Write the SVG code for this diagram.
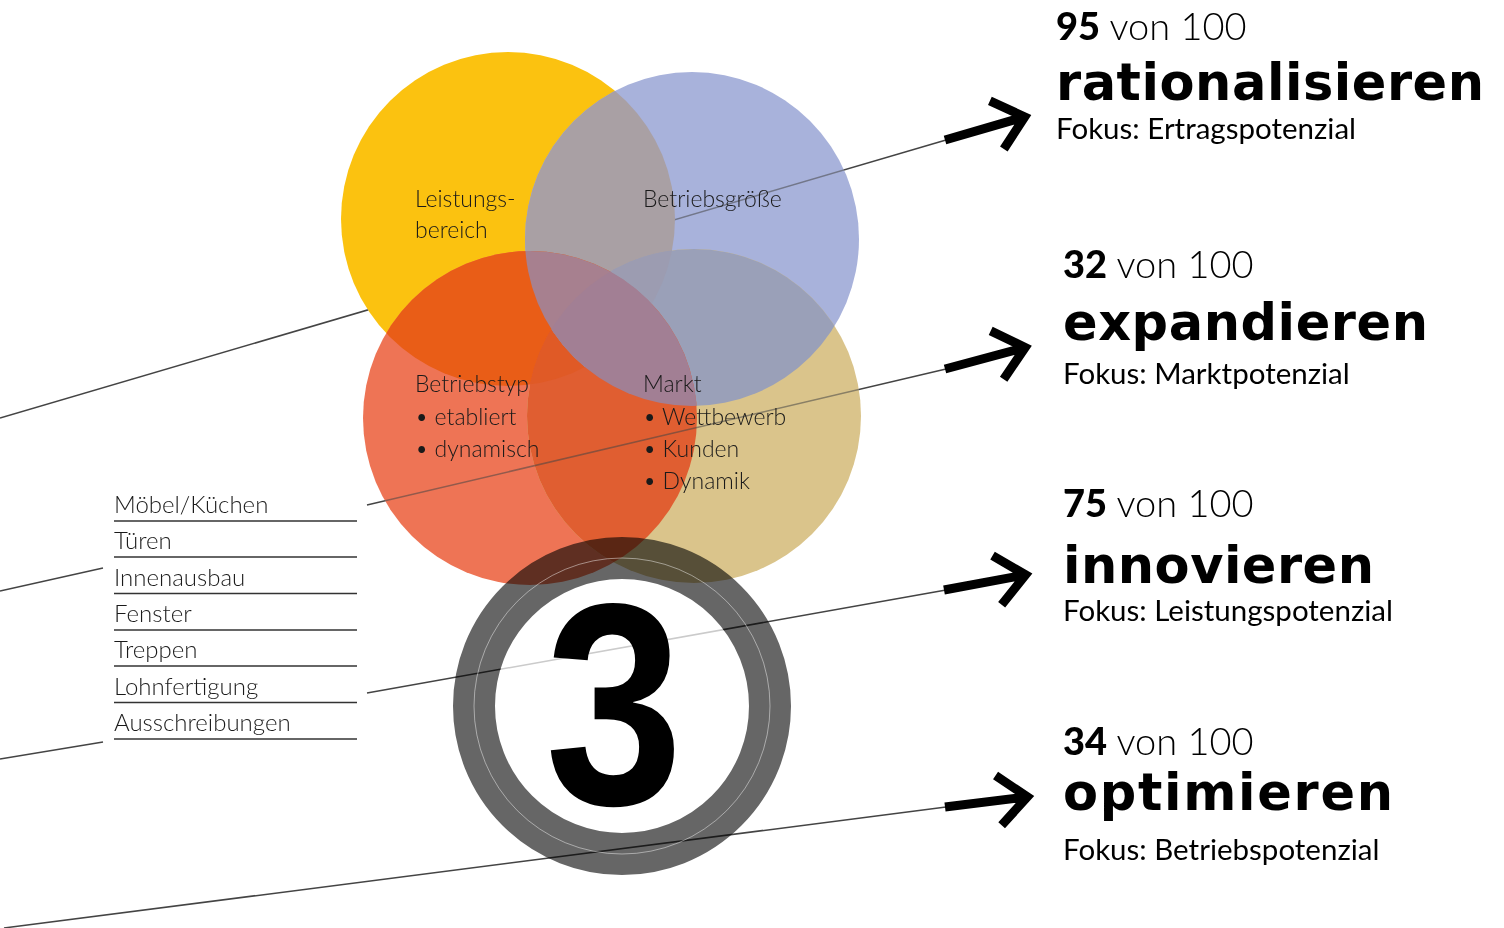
<svg xmlns="http://www.w3.org/2000/svg" width="1504" height="928" viewBox="0 0 1504 928">
<style>
.lbl{font-family:Lato,'Noto Sans',sans-serif;font-weight:300;font-size:24px;fill:#1a1a1a}
.vl{font-size:23px}
.num{font-family:Lato,'Noto Sans',sans-serif;font-size:38px;fill:#000}
.num .b{font-weight:900}
.num .l{font-weight:300}
.big{font-family:'DejaVu Sans',sans-serif;font-weight:700;font-size:51px;fill:#000}
.fok{font-family:Lato,'Noto Sans',sans-serif;font-weight:400;font-size:29.5px;fill:#000}
.ln{stroke:#444;stroke-width:1.5;fill:none}
.ul{stroke:#333;stroke-width:1.3}
.arr{stroke:#000;stroke-width:9;fill:none;stroke-linejoin:miter;stroke-miterlimit:10;stroke-linecap:butt}
</style>
<defs>
<clipPath id="cY"><circle cx="508" cy="219" r="167"/></clipPath>
<clipPath id="cB"><circle cx="692" cy="239" r="167"/></clipPath>
<clipPath id="cR"><circle cx="530" cy="418" r="167"/></clipPath>
<clipPath id="cT"><circle cx="694" cy="416" r="167"/></clipPath>
<mask id="lineMask" maskUnits="userSpaceOnUse" x="0" y="0" width="1504" height="928">
<rect x="0" y="0" width="1504" height="928" fill="#fff"/>
<circle cx="692" cy="239" r="167" fill="#8a8a8a"/>
<circle cx="530" cy="418" r="167" fill="#8a8a8a"/>
<circle cx="694" cy="416" r="167" fill="#8a8a8a"/>
<circle cx="508" cy="219" r="167" fill="#000"/>
</mask>
<path id="arrowShape" d="M0,0 H84 M54,-25 L83,0 L54,25"/>
</defs>
<rect width="1504" height="928" fill="#fff"/>

<g id="venn">
<g id="node-leistungsbereich"><circle cx="508" cy="219" r="167" fill="#FBC210"/></g>
<g id="node-betriebsgroesse"><circle cx="692" cy="239" r="167" fill="#A8B2DB"/></g>
<g id="node-betriebstyp"><circle cx="530" cy="418" r="167" fill="#EE7455"/></g>
<g id="node-markt"><circle cx="694" cy="416" r="167" fill="#DAC48B"/></g>
<g id="overlaps">
<g clip-path="url(#cY)"><circle cx="692" cy="239" r="167" fill="#A9A0A4"/></g>
<g clip-path="url(#cY)"><circle cx="530" cy="418" r="167" fill="#E95D17"/></g>
<g clip-path="url(#cB)"><circle cx="694" cy="416" r="167" fill="#9AA0B8"/></g>
<g clip-path="url(#cR)"><circle cx="694" cy="416" r="167" fill="#E05E31"/></g>
<g clip-path="url(#cY)"><g clip-path="url(#cR)"><circle cx="694" cy="416" r="167" fill="#E05A26"/></g></g>
<g clip-path="url(#cY)"><g clip-path="url(#cB)"><circle cx="694" cy="416" r="167" fill="#9C9CB1"/></g></g>
<g clip-path="url(#cY)"><g clip-path="url(#cB)"><circle cx="530" cy="418" r="167" fill="#A7808F"/></g></g>
<g clip-path="url(#cB)"><g clip-path="url(#cR)"><circle cx="694" cy="416" r="167" fill="#A27F94"/></g></g>
</g>
</g>

<g id="connectors">
<g mask="url(#lineMask)">
<line class="ln" x1="0" y1="418" x2="946" y2="140"/>
<line class="ln" x1="0" y1="591" x2="103" y2="568"/>
<line class="ln" x1="367" y1="505" x2="946" y2="369"/>
<line class="ln" x1="0" y1="759" x2="103" y2="742"/>
<line class="ln" x1="367" y1="693" x2="946" y2="590"/>
<line class="ln" x1="4" y1="928" x2="946" y2="807"/>
</g>
<use href="#arrowShape" class="arr" transform="translate(945,140) rotate(-16.2)"/>
<use href="#arrowShape" class="arr" transform="translate(945,369) rotate(-15)"/>
<use href="#arrowShape" class="arr" transform="translate(944,590) rotate(-10.5)"/>
<use href="#arrowShape" class="arr" transform="translate(945,807) rotate(-7)"/>
</g>

<g id="node-three">
<circle cx="622" cy="706" r="127" fill="#fff" fill-opacity="0.72"/>
<circle cx="622" cy="706" r="148" fill="none" stroke="#666" stroke-width="42" style="mix-blend-mode:multiply"/>
<circle cx="622" cy="706" r="148" fill="none" stroke="#fff" stroke-opacity="0.45" stroke-width="1"/>
<text transform="translate(614,804) scale(0.86,1)" x="0" y="0" text-anchor="middle" font-family="'Liberation Sans',Arial,sans-serif" font-weight="700" font-size="288" fill="#000">3</text>
</g>

<g id="venn-labels">
<g id="label-leistungsbereich"><text class="lbl vl" x="415" y="207">Leistungs-</text><text class="lbl vl" x="415" y="238">bereich</text></g>
<g id="label-betriebsgroesse"><text class="lbl vl" x="643" y="207">Betriebsgröße</text></g>
<g id="label-betriebstyp">
<text class="lbl vl" x="415" y="392">Betriebstyp</text>
<text class="lbl vl" x="415" y="425">• etabliert</text>
<text class="lbl vl" x="415" y="457">• dynamisch</text>
</g>
<g id="label-markt">
<text class="lbl vl" x="643" y="392">Markt</text>
<text class="lbl vl" x="643" y="425">• Wettbewerb</text>
<text class="lbl vl" x="643" y="457">• Kunden</text>
<text class="lbl vl" x="643" y="489">• Dynamik</text>
</g>
</g>

<g id="node-list">
<text class="lbl" x="114" y="513">Möbel/Küchen</text>
<line class="ul" x1="114" y1="521" x2="357" y2="521"/>
<text class="lbl" x="114" y="549">Türen</text>
<line class="ul" x1="114" y1="557" x2="357" y2="557"/>
<text class="lbl" x="114" y="586">Innenausbau</text>
<line class="ul" x1="114" y1="593.5" x2="357" y2="593.5"/>
<text class="lbl" x="114" y="622">Fenster</text>
<line class="ul" x1="114" y1="630" x2="357" y2="630"/>
<text class="lbl" x="114" y="658">Treppen</text>
<line class="ul" x1="114" y1="666" x2="357" y2="666"/>
<text class="lbl" x="114" y="695">Lohnfertigung</text>
<line class="ul" x1="114" y1="702.5" x2="357" y2="702.5"/>
<text class="lbl" x="114" y="731">Ausschreibungen</text>
<line class="ul" x1="114" y1="739" x2="357" y2="739"/>
</g>

<g id="node-rationalisieren">
<text class="num" x="1056" y="40"><tspan class="b">95</tspan><tspan class="l"> von 100</tspan></text>
<text class="big" x="1056" y="100" textLength="428" lengthAdjust="spacing">rationalisieren</text>
<text class="fok" x="1056" y="139">Fokus: Ertragspotenzial</text>
</g>
<g id="node-expandieren">
<text class="num" x="1063" y="278"><tspan class="b">32</tspan><tspan class="l"> von 100</tspan></text>
<text class="big" x="1063" y="340" textLength="365" lengthAdjust="spacing">expandieren</text>
<text class="fok" x="1063" y="384">Fokus: Marktpotenzial</text>
</g>
<g id="node-innovieren">
<text class="num" x="1063" y="517"><tspan class="b">75</tspan><tspan class="l"> von 100</tspan></text>
<text class="big" x="1063" y="583" textLength="311" lengthAdjust="spacing">innovieren</text>
<text class="fok" x="1063" y="621">Fokus: Leistungspotenzial</text>
</g>
<g id="node-optimieren">
<text class="num" x="1063" y="755"><tspan class="b">34</tspan><tspan class="l"> von 100</tspan></text>
<text class="big" x="1063" y="810" textLength="330" lengthAdjust="spacing">optimieren</text>
<text class="fok" x="1063" y="860">Fokus: Betriebspotenzial</text>
</g>
</svg>
